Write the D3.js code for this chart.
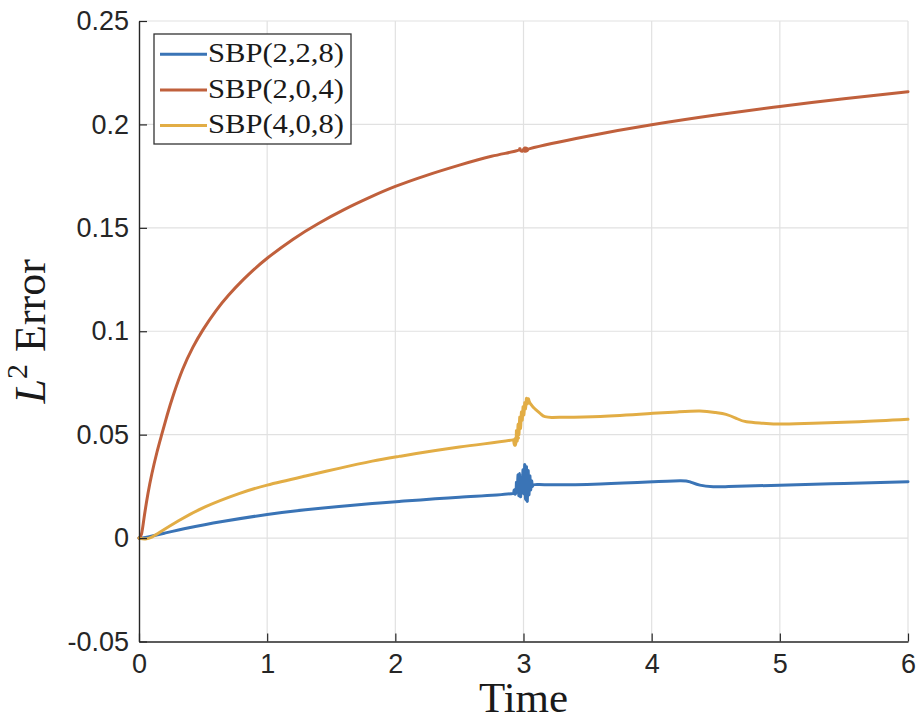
<!DOCTYPE html>
<html>
<head>
<meta charset="utf-8">
<script src="https://cdn.jsdelivr.net/npm/d3@7"></script>
<style>
  html, body { margin: 0; padding: 0; background: #fff; }
  svg { display: block; }
</style>
</head>
<body>
<svg id="chart" width="916" height="719"></svg>
<script>
// Axis ticks
const xTicks = [0, 1, 2, 3, 4, 5, 6];
const yTicks = [-0.05, 0, 0.05, 0.1, 0.15, 0.2, 0.25];
const yTickLabels = ["-0.05", "0", "0.05", "0.1", "0.15", "0.2", "0.25"];

// Series names (legend order)
const seriesNames = ["SBP(2,2,8)", "SBP(2,0,4)", "SBP(4,0,8)"];

// SBP(2,2,8)
const tBlue = [0, 0.05, 0.208, 0.39, 0.65, 1.0, 1.3, 1.56, 1.82, 2.03, 2.5, 2.925,
  2.932, 2.938, 2.945, 2.951, 2.958, 2.964, 2.971, 2.977, 2.984, 2.990, 2.997, 3.003,
  3.010, 3.016, 3.023, 3.029, 3.036, 3.042, 3.049, 3.055, 3.062, 3.068, 3.080,
  3.2, 3.6, 4.01, 4.22, 4.3, 4.376, 4.48, 4.6, 5.0, 5.5, 6.0];
const eBlue = [0, 0.0003, 0.0025, 0.0050, 0.0080, 0.0114, 0.0137, 0.0153, 0.0167, 0.0177, 0.0198, 0.0217,
  0.0235, 0.0215, 0.0270, 0.0225, 0.0305, 0.0205, 0.0312, 0.0200, 0.0290, 0.0240, 0.0330, 0.0215,
  0.0355, 0.0185, 0.0345, 0.0178, 0.0325, 0.0210, 0.0300, 0.0235, 0.0275, 0.0252, 0.0258,
  0.0258, 0.0262, 0.0272, 0.0277, 0.0272, 0.0256, 0.0248, 0.0249, 0.0256, 0.0264, 0.0272];

// SBP(2,0,4)
const tRed = [0, 0.02, 0.04, 0.07, 0.1, 0.14, 0.177, 0.22, 0.27, 0.34, 0.42, 0.5, 0.6, 0.7, 0.8, 0.9,
  1.0, 1.2, 1.4, 1.6, 1.8, 2.0, 2.25, 2.5, 2.75, 2.95, 2.97, 2.99, 3.01, 3.03, 3.05,
  3.5, 4.0, 4.5, 5.0, 5.5, 6.0];
const eRed = [0, 0.002, 0.010, 0.0215, 0.0310, 0.0415, 0.0500, 0.0595, 0.0695, 0.0815, 0.0922, 0.1008, 0.1099, 0.1175, 0.1241, 0.1300,
  0.1353, 0.1444, 0.1521, 0.1588, 0.1647, 0.1700, 0.1755, 0.1803, 0.1846, 0.1873, 0.1882, 0.1870, 0.1886, 0.1874, 0.1883,
  0.1943, 0.1998, 0.2045, 0.2087, 0.2124, 0.2158];

// SBP(4,0,8)
const tYellow = [0, 0.05, 0.1, 0.156, 0.312, 0.52, 0.78, 1.0, 1.3, 1.56, 1.82, 2.03, 2.5, 2.925,
  2.932, 2.938, 2.945, 2.951, 2.958, 2.964, 2.971, 2.977, 2.984, 2.990, 2.997, 3.003,
  3.010, 3.016, 3.023, 3.029, 3.036, 3.045, 3.060, 3.080, 3.100, 3.135, 3.167, 3.22, 3.28,
  3.6, 4.01, 4.2, 4.376, 4.5, 4.58, 4.66, 4.74, 4.87, 5.0, 5.26, 5.62, 6.0];
const eYellow = [0, -0.0004, 0.0005, 0.0026, 0.0085, 0.0152, 0.0215, 0.0256, 0.0300, 0.0337, 0.0372, 0.0395, 0.0440, 0.0476,
  0.0479, 0.0452, 0.0520, 0.0470, 0.0550, 0.0500, 0.0585, 0.0530, 0.0610, 0.0570, 0.0635, 0.0595,
  0.0655, 0.0625, 0.0675, 0.0650, 0.0672, 0.0660, 0.0645, 0.0630, 0.0619, 0.0600, 0.0587, 0.0583, 0.0584,
  0.0588, 0.0603, 0.0610, 0.0614, 0.0607, 0.0598, 0.0579, 0.0562, 0.0555, 0.0551, 0.0555, 0.0562, 0.0574];

const colors = ["#3a74b6", "#c0603c", "#e2ad45"];

const svg = d3.select("#chart");
const W = 916, H = 719;
const plot = { left: 139, right: 908, top: 21, bottom: 641.5 };

const x = d3.scaleLinear().domain([0, 6]).range([plot.left, plot.right]);
const y = d3.scaleLinear().domain([-0.05, 0.25]).range([plot.bottom, plot.top]);

svg.append("rect").attr("width", W).attr("height", H).attr("fill", "#fff");

// Grid
const grid = svg.append("g").attr("stroke", "#e1e1e1").attr("stroke-width", 1.2);
xTicks.filter(d => d > 0).forEach(d => {
  grid.append("line").attr("x1", x(d)).attr("x2", x(d)).attr("y1", plot.top).attr("y2", plot.bottom);
});
yTicks.filter(d => d > -0.05).forEach(d => {
  grid.append("line").attr("x1", plot.left).attr("x2", plot.right).attr("y1", y(d)).attr("y2", y(d));
});

// Series lines (natural cubic spline through the sampled errors)
const series = [
  { t: tBlue, e: eBlue, color: colors[0] },
  { t: tRed, e: eRed, color: colors[1] },
  { t: tYellow, e: eYellow, color: colors[2] }
];
const line = d3.line().x(d => x(d[0])).y(d => y(d[1])).curve(d3.curveNatural);
series.forEach(s => {
  svg.append("path")
    .datum(s.t.map((t, i) => [t, s.e[i]]))
    .attr("d", line)
    .attr("fill", "none")
    .attr("stroke", s.color)
    .attr("stroke-width", 3)
    .attr("stroke-linejoin", "round")
    .attr("stroke-linecap", "round");
});

// Axes
const tickFont = "'Liberation Sans', Arial, Helvetica, sans-serif";
const xAxis = d3.axisBottom(x).tickValues(xTicks).tickFormat(d => String(d))
  .tickSizeInner(-8).tickSizeOuter(0).tickPadding(12);
const gx = svg.append("g").attr("transform", `translate(0,${plot.bottom})`).call(xAxis);

const yAxis = d3.axisLeft(y).tickValues(yTicks).tickFormat((d, i) => yTickLabels[i])
  .tickSizeInner(-8).tickSizeOuter(0).tickPadding(10);
const gy = svg.append("g").attr("transform", `translate(${plot.left},0)`).call(yAxis);

[gx, gy].forEach(g => {
  g.select(".domain").attr("stroke", "#262626").attr("stroke-width", 1.4);
  g.selectAll(".tick line").attr("stroke", "#262626").attr("stroke-width", 1.2);
  g.selectAll(".tick text")
    .attr("fill", "#262626")
    .style("font-family", tickFont)
    .style("font-size", "27px");
});

// Axis titles
const serif = "'Liberation Serif', 'DejaVu Serif', Times, serif";
svg.append("text")
  .attr("x", (plot.left + plot.right) / 2)
  .attr("y", 712)
  .attr("text-anchor", "middle")
  .style("font-family", serif)
  .style("font-size", "43px")
  .attr("fill", "#1a1a1a")
  .text("Time");

const yl = svg.append("text")
  .attr("transform", `translate(45,${(plot.top + plot.bottom) / 2}) rotate(-90)`)
  .attr("text-anchor", "middle")
  .style("font-family", serif)
  .style("font-size", "44px")
  .attr("fill", "#1a1a1a");
yl.append("tspan").style("font-style", "italic").text("L");
yl.append("tspan").attr("dy", -18).style("font-size", "30px").text("2");
yl.append("tspan").attr("dy", 18).attr("dx", 12).text("Error");

// Legend
const lg = svg.append("g");
lg.append("rect")
  .attr("x", 154).attr("y", 34).attr("width", 197).attr("height", 110)
  .attr("fill", "#fff").attr("stroke", "#333").attr("stroke-width", 1.3);
const rowY = [54.3, 90, 125.5];
seriesNames.forEach((name, i) => {
  lg.append("line")
    .attr("x1", 160).attr("x2", 207).attr("y1", rowY[i]).attr("y2", rowY[i])
    .attr("stroke", colors[i]).attr("stroke-width", 3);
  lg.append("text")
    .attr("x", 208).attr("y", rowY[i] + 7.5)
    .attr("textLength", 136).attr("lengthAdjust", "spacingAndGlyphs")
    .style("font-family", serif)
    .style("font-size", "28px")
    .attr("fill", "#1a1a1a")
    .text(name);
});
</script>
</body>
</html>
